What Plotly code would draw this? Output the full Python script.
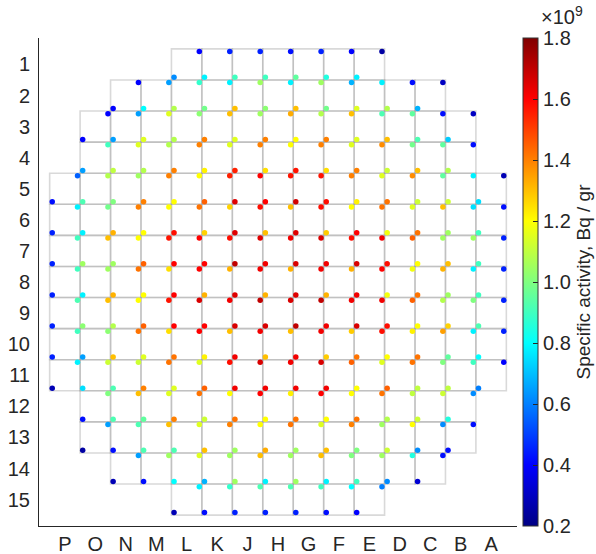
import plotly.graph_objects as go

# Core map: 15 x 15 assembly grid, columns lettered P..A, rows numbered 1..15
COLUMNS = ["P", "O", "N", "M", "L", "K", "J", "H", "G", "F", "E", "D", "C", "B", "A"]
ROWS = list(range(1, 16))
ROW_FIRST_COLUMN = ["L", "N", "O", "O", "P", "P", "P", "P", "P", "P", "P", "O", "O", "N", "L"]

# Specific activity (x1e9 Bq/gr) at the upper-right sample point of each assembly, row by row
ACTIVITY_UPPER = [
    [0.40, 0.45, 0.45, 0.42, 0.45, 0.40, 0.25],
    [0.40, 0.65, 0.88, 0.78, 1.05, 0.78, 1.05, 0.68, 0.78, 0.42, 0.30],
    [0.40, 0.65, 1.15, 1.02, 1.30, 1.05, 1.33, 1.08, 1.30, 0.92, 0.95, 0.42, 0.30],
    [0.90, 1.15, 1.08, 1.40, 1.15, 1.40, 1.20, 1.40, 1.15, 1.38, 0.98, 0.95, 0.42],
    [0.55, 1.08, 1.05, 1.40, 1.20, 1.55, 1.60, 1.57, 1.57, 1.40, 1.15, 1.38, 0.95, 0.78, 0.28],
    [0.78, 0.98, 1.40, 1.20, 1.42, 1.27, 1.58, 1.30, 1.58, 1.20, 1.42, 1.15, 1.30, 0.75, 0.42],
    [0.90, 1.30, 1.20, 1.57, 1.60, 1.58, 1.65, 1.62, 1.66, 1.58, 1.62, 1.45, 1.05, 1.05, 0.45],
    [0.90, 1.05, 1.42, 1.25, 1.60, 1.32, 1.62, 1.32, 1.62, 1.32, 1.60, 1.18, 1.32, 0.78, 0.45],
    [0.92, 1.30, 1.20, 1.57, 1.66, 1.62, 1.70, 1.66, 1.70, 1.62, 1.62, 1.45, 1.08, 1.00, 0.45],
    [0.90, 1.02, 1.42, 1.25, 1.60, 1.30, 1.62, 1.30, 1.62, 1.28, 1.58, 1.22, 1.35, 0.78, 0.45],
    [0.78, 1.12, 1.12, 1.42, 1.15, 1.58, 1.66, 1.62, 1.66, 1.45, 1.15, 1.42, 1.00, 0.90, 0.40],
    [1.00, 1.30, 1.15, 1.42, 1.20, 1.60, 1.22, 1.60, 1.20, 1.42, 1.10, 1.12, 0.62],
    [0.65, 0.92, 1.30, 1.15, 1.40, 1.20, 1.42, 1.15, 1.40, 1.05, 1.20, 0.62, 0.42],
    [0.65, 1.05, 1.15, 1.05, 1.30, 1.05, 1.30, 1.00, 1.05, 0.85, 0.42],
    [0.78, 0.88, 0.92, 0.92, 0.90, 0.80, 0.60],
]

# Specific activity (x1e9 Bq/gr) at the lower-left sample point of each assembly, row by row
ACTIVITY_LOWER = [
    [0.62, 0.78, 0.90, 0.90, 0.95, 0.85, 0.78],
    [0.40, 0.80, 1.08, 0.98, 1.30, 1.02, 1.30, 0.98, 1.15, 1.08, 0.68],
    [0.40, 0.65, 1.15, 1.08, 1.40, 1.15, 1.40, 1.20, 1.40, 1.15, 1.30, 0.92, 0.72],
    [0.65, 1.10, 1.08, 1.40, 1.22, 1.55, 1.25, 1.57, 1.25, 1.40, 1.12, 1.30, 1.08],
    [0.42, 0.92, 1.00, 1.40, 1.20, 1.45, 1.65, 1.60, 1.67, 1.58, 1.22, 1.42, 1.12, 1.12, 0.75],
    [0.45, 0.78, 1.32, 1.20, 1.58, 1.27, 1.65, 1.30, 1.65, 1.28, 1.60, 1.18, 1.42, 1.05, 0.90],
    [0.45, 1.05, 1.05, 1.45, 1.60, 1.60, 1.70, 1.62, 1.66, 1.62, 1.66, 1.58, 1.20, 1.30, 0.90],
    [0.45, 0.78, 1.32, 1.20, 1.60, 1.32, 1.65, 1.32, 1.65, 1.32, 1.62, 1.18, 1.42, 1.05, 0.90],
    [0.45, 1.02, 1.08, 1.45, 1.60, 1.60, 1.66, 1.66, 1.70, 1.62, 1.66, 1.58, 1.20, 1.27, 0.92],
    [0.45, 0.65, 1.30, 1.15, 1.42, 1.22, 1.62, 1.30, 1.62, 1.28, 1.42, 1.20, 1.42, 0.95, 0.80],
    [0.28, 0.75, 0.92, 1.40, 1.15, 1.45, 1.62, 1.62, 1.62, 1.62, 1.20, 1.45, 1.10, 1.10, 0.60],
    [0.42, 0.92, 0.95, 1.40, 1.12, 1.42, 1.20, 1.42, 1.20, 1.42, 1.08, 1.12, 0.85],
    [0.25, 0.42, 0.92, 0.92, 1.30, 1.05, 1.33, 1.05, 1.30, 1.00, 1.12, 0.62, 0.42],
    [0.28, 0.42, 0.80, 0.68, 1.05, 0.78, 1.05, 0.78, 0.90, 0.62, 0.33],
    [0.28, 0.42, 0.45, 0.45, 0.45, 0.42, 0.40],
]

COLORBAR_TICKS = [0.2, 0.4, 0.6, 0.8, 1.0, 1.2, 1.4, 1.6, 1.8]

FONT = "Liberation Sans, Arial, Helvetica, sans-serif"
TEXT = "#262626"
FONT_SIZE = 20
OFFSET = 0.415  # sample points sit near opposite corners of each assembly

# MATLAB-style jet colormap
JET = [
    [0.0, "rgb(0,0,132)"],
    [0.125, "rgb(0,0,255)"],
    [0.375, "rgb(0,255,255)"],
    [0.625, "rgb(255,255,0)"],
    [0.875, "rgb(255,0,0)"],
    [1.0, "rgb(128,0,0)"],
]

xs, ys, vals = [], [], []
shapes = []
for row, first, upper, lower in zip(ROWS, ROW_FIRST_COLUMN, ACTIVITY_UPPER, ACTIVITY_LOWER):
    start = COLUMNS.index(first) + 1
    for k, (vu, vl) in enumerate(zip(upper, lower)):
        col = start + k
        shapes.append(dict(
            type="rect", xref="x", yref="y",
            x0=col - 0.5, x1=col + 0.5, y0=row - 0.5, y1=row + 0.5,
            line=dict(color="rgba(150,150,150,0.36)", width=1.6),
            fillcolor="rgba(0,0,0,0)", layer="below",
        ))
        xs += [col + OFFSET, col - OFFSET]
        ys += [row - OFFSET, row + OFFSET]
        vals += [vu, vl]

fig = go.Figure(go.Scatter(
    x=xs, y=ys, mode="markers",
    marker=dict(
        size=5.5, color=vals, colorscale=JET, cmin=0.2, cmax=1.8,
        line=dict(width=0),
        colorbar=dict(
            x=1.0126, xanchor="left", xpad=0, ypad=0,
            y=0.5, yanchor="middle", len=1, lenmode="fraction",
            thickness=15, thicknessmode="pixels",
            outlinewidth=1, outlinecolor="#333333",
            ticks="inside", ticklen=5, tickwidth=1, tickcolor="#262626",
            tickvals=COLORBAR_TICKS, ticktext=[f"{t:.1f}" for t in COLORBAR_TICKS],
            tickfont=dict(family=FONT, size=FONT_SIZE, color=TEXT),
            title=dict(text="Specific activity, Bq / gr", side="right",
                       font=dict(family=FONT, size=19, color=TEXT)),
        ),
    ),
    hoverinfo="skip", showlegend=False,
))

fig.update_layout(
    width=596, height=554,
    margin=dict(l=39, r=79, t=38, b=28, autoexpand=False),
    paper_bgcolor="white", plot_bgcolor="white",
    font=dict(family=FONT, size=FONT_SIZE, color=TEXT),
    shapes=shapes,
    xaxis=dict(
        range=[0.15, 15.85], tickvals=list(range(1, 16)), ticktext=COLUMNS,
        showgrid=False, zeroline=False, showline=True, linecolor="#262626", linewidth=1,
        ticks="", automargin=False, ticklabelstandoff=0,
        tickfont=dict(family=FONT, size=FONT_SIZE, color=TEXT),
    ),
    yaxis=dict(
        range=[15.85, 0.15], tickvals=ROWS, ticktext=[str(r) for r in ROWS],
        showgrid=False, zeroline=False, showline=True, linecolor="#262626", linewidth=1,
        ticks="", automargin=False, ticklabelstandoff=4,
        tickfont=dict(family=FONT, size=FONT_SIZE, color=TEXT),
    ),
    annotations=[dict(
        text="×10<sup>9</sup>", xref="paper", yref="paper",
        x=1.047, y=1.017, xanchor="left", yanchor="bottom", showarrow=False,
        font=dict(family=FONT, size=FONT_SIZE, color=TEXT),
    )],
)

fig.write_html("out.html")
